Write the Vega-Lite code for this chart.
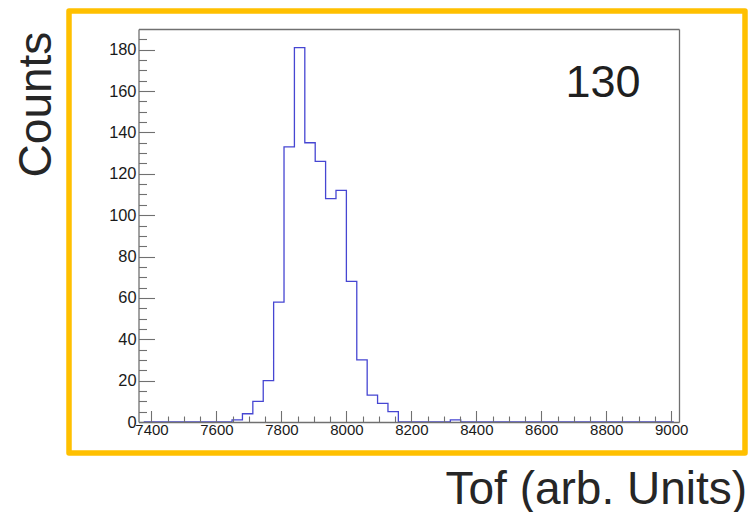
{
  "$schema": "https://vega.github.io/schema/vega-lite/v6.json",
  "width": 676,
  "height": 442,
  "autosize": {"type": "none"},
  "padding": {"left": 69, "top": 11, "right": 4, "bottom": 59},
  "background": "white",
  "config": {
    "view": {"stroke": "#FFC000", "strokeWidth": 5.5, "strokeJoin": "round", "fill": "white"},
    "font": "Liberation Sans",
    "axis": {
      "domainColor": "#707070", "tickColor": "#707070", "domainWidth": 1.3, "tickWidth": 1.1,
      "labelFont": "Liberation Sans", "labelColor": "#1a1a1a", "grid": false,
      "labelOverlap": false, "labelFlush": false, "labelBound": false, "zindex": 1,
      "titleFont": "Liberation Sans", "titleFontWeight": "normal", "titleColor": "#262626"
    }
  },
  "resolve": {"axis": {"x": "independent", "y": "independent"}},
  "layer": [
    {
      "data": {"values": [
        {"tof": 7376, "counts": 0}, {"tof": 7408, "counts": 0}, {"tof": 7440, "counts": 0}, {"tof": 7472, "counts": 0},
        {"tof": 7504, "counts": 0}, {"tof": 7536, "counts": 0}, {"tof": 7568, "counts": 0}, {"tof": 7600, "counts": 0},
        {"tof": 7632, "counts": 0}, {"tof": 7664, "counts": 1}, {"tof": 7696, "counts": 4}, {"tof": 7728, "counts": 10},
        {"tof": 7760, "counts": 20}, {"tof": 7792, "counts": 58}, {"tof": 7824, "counts": 133}, {"tof": 7856, "counts": 181},
        {"tof": 7888, "counts": 135}, {"tof": 7920, "counts": 126}, {"tof": 7952, "counts": 108}, {"tof": 7984, "counts": 112},
        {"tof": 8016, "counts": 68}, {"tof": 8048, "counts": 30}, {"tof": 8080, "counts": 13}, {"tof": 8112, "counts": 9},
        {"tof": 8144, "counts": 5}, {"tof": 8176, "counts": 0}, {"tof": 8208, "counts": 0}, {"tof": 8240, "counts": 0},
        {"tof": 8272, "counts": 0}, {"tof": 8304, "counts": 0}, {"tof": 8336, "counts": 1}, {"tof": 8368, "counts": 0},
        {"tof": 8400, "counts": 0}, {"tof": 8432, "counts": 0}, {"tof": 8464, "counts": 0}, {"tof": 8496, "counts": 0},
        {"tof": 8528, "counts": 0}, {"tof": 8560, "counts": 0}, {"tof": 8592, "counts": 0}, {"tof": 8624, "counts": 0},
        {"tof": 8656, "counts": 0}, {"tof": 8688, "counts": 0}, {"tof": 8720, "counts": 0}, {"tof": 8752, "counts": 0},
        {"tof": 8784, "counts": 0}, {"tof": 8816, "counts": 0}, {"tof": 8848, "counts": 0}, {"tof": 8880, "counts": 0},
        {"tof": 8912, "counts": 0}, {"tof": 8944, "counts": 0}, {"tof": 8976, "counts": 0}, {"tof": 9008, "counts": 0}
      ]},
      "mark": {"type": "line", "interpolate": "step", "color": "#4646d2", "strokeWidth": 1.3},
      "encoding": {
        "x": {
          "field": "tof", "type": "quantitative",
          "scale": {"domain": [7360, 9024], "range": [69.5, 610], "nice": false, "zero": false},
          "axis": {
            "orient": "bottom", "offset": -31, "zindex": 2,
            "values": [7400, 7450, 7500, 7550, 7600, 7650, 7700, 7750, 7800, 7850, 7900, 7950, 8000, 8050, 8100, 8150, 8200, 8250, 8300, 8350, 8400, 8450, 8500, 8550, 8600, 8650, 8700, 8750, 8800, 8850, 8900, 8950, 9000],
            "format": "d",
            "labelExpr": "datum.value % 200 === 0 ? datum.label : ''",
            "tickSize": {"condition": {"test": "datum.value % 200 === 0", "value": -11.5}, "value": -6},
            "labelPadding": 11.5, "labelFontSize": 15, "labelBaseline": "top", "labelAlign": "center",
            "title": "Tof (arb. Units)", "titleFontSize": 46, "titleX": 376, "titleY": 81,
            "titleAlign": "left", "titleBaseline": "alphabetic", "titleAngle": 0
          }
        },
        "y": {
          "field": "counts", "type": "quantitative",
          "scale": {"domain": [0, 190], "range": [411, 18], "nice": false, "zero": false},
          "axis": {
            "orient": "left", "offset": -69.5, "zindex": 2,
            "values": [0, 5, 10, 15, 20, 25, 30, 35, 40, 45, 50, 55, 60, 65, 70, 75, 80, 85, 90, 95, 100, 105, 110, 115, 120, 125, 130, 135, 140, 145, 150, 155, 160, 165, 170, 175, 180, 185],
            "format": "d",
            "labelExpr": "datum.value % 20 === 0 ? datum.label : ''",
            "tickSize": {"condition": {"test": "datum.value % 20 === 0", "value": -16}, "value": -8},
            "labelPadding": 18.5, "labelFontSize": 16.4, "labelAlign": "right", "labelBaseline": "middle",
            "title": "Counts", "titleFontSize": 46, "titleX": -88.5, "titleY": 93,
            "titleAngle": -90, "titleAlign": "center", "titleBaseline": "alphabetic"
          }
        }
      }
    },
    {
      "data": {"values": [{"note": "130"}]},
      "mark": {"type": "text", "fontSize": 45, "font": "Liberation Sans", "color": "#1f1f1f", "align": "center", "baseline": "alphabetic"},
      "encoding": {
        "text": {"field": "note", "type": "nominal"},
        "x": {"datum": 8790, "type": "quantitative", "axis": {"orient": "top", "offset": -18, "zindex": 2, "ticks": false, "labels": false, "title": null, "domain": true}},
        "y": {"datum": 157, "type": "quantitative", "axis": {"orient": "right", "offset": -66, "zindex": 2, "ticks": false, "labels": false, "title": null, "domain": true}}
      }
    }
  ]
}
